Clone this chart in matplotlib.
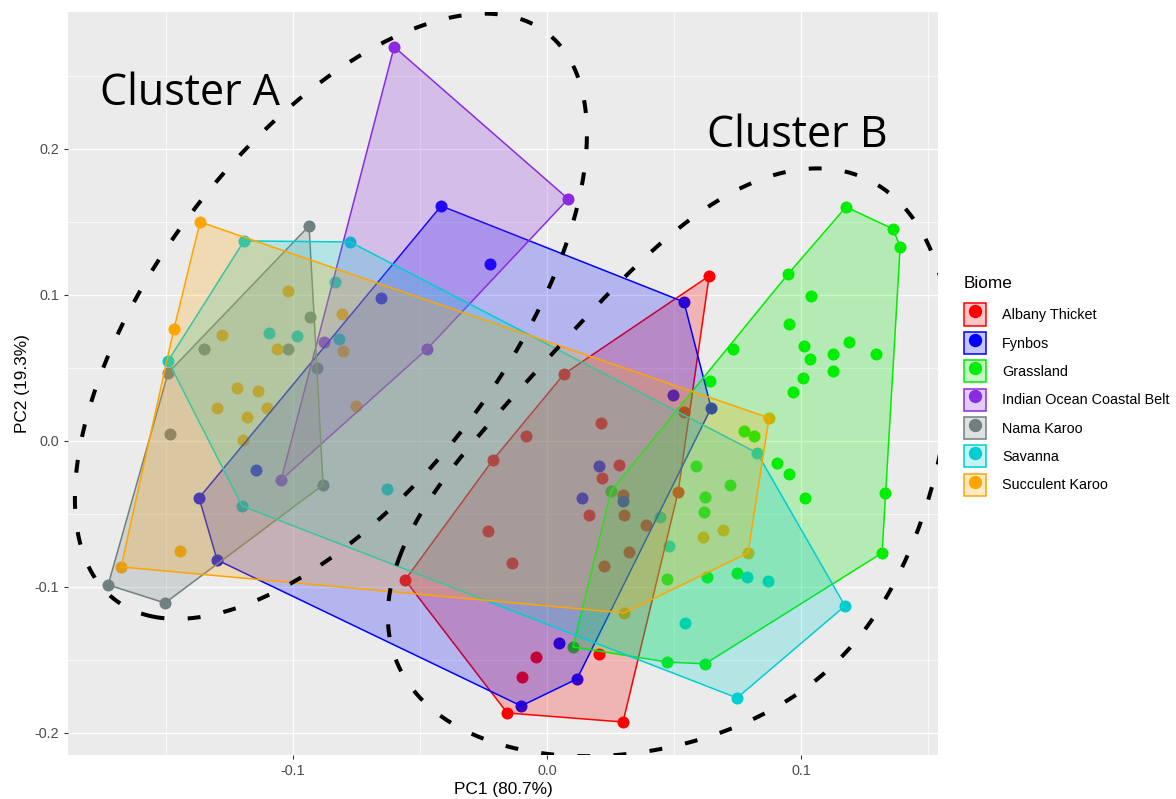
import numpy as np
import matplotlib
matplotlib.use("Agg")
import matplotlib.pyplot as plt
from matplotlib.patches import Polygon, Patch
from matplotlib.lines import Line2D
from matplotlib.colors import to_rgba

plt.rcParams['font.family'] = ['Liberation Sans', 'DejaVu Sans']

biomes = ["Albany Thicket", "Fynbos", "Grassland", "Indian Ocean Coastal Belt",
          "Nama Karoo", "Savanna", "Succulent Karoo"]
colors = ["#FF0000", "#0000FF", "#00EE00", "#8A2BE2", "#708080", "#00CED1", "#FFA500"]

albany_x = [0.0638, 0.0067, -0.0213, -0.0559, -0.0157, 0.0299, 0.0213, -0.0083, 0.0283, 0.0217,
            0.0165, -0.0232, -0.0138, 0.0299, 0.0303, 0.0390, 0.0323, 0.0224, 0.0539, 0.0516,
            0.0205, -0.0043, -0.0098]
albany_y = [0.1130, 0.0459, -0.0130, -0.0952, -0.1863, -0.1925, 0.0123, 0.0034, -0.0164, -0.0253,
            -0.0507, -0.0616, -0.0836, -0.0370, -0.0507, -0.0575, -0.0760, -0.0856, 0.0199, -0.0349,
            -0.1459, -0.1479, -0.1616]

fynbos_x = [-0.0417, -0.0224, 0.0539, 0.0646, 0.0118, -0.0102, -0.1299, -0.1370, -0.1146, -0.0654,
            0.0205, 0.0138, 0.0299, 0.0047, 0.0496]
fynbos_y = [0.1610, 0.1212, 0.0952, 0.0226, -0.1630, -0.1815, -0.0815, -0.0390, -0.0199, 0.0979,
            -0.0171, -0.0390, -0.0411, -0.1384, 0.0315]

grass_x = [0.1177, 0.1362, 0.1390, 0.1331, 0.1319, 0.0622, 0.0472, 0.0102, 0.0252, 0.0642,
           0.0732, 0.0949, 0.1039, 0.0953, 0.1012, 0.1035, 0.1126, 0.1189, 0.1295, 0.1126,
           0.1008, 0.0969, 0.0776, 0.0815, 0.0906, 0.0953, 0.1016, 0.0587, 0.0720, 0.0622,
           0.0618, 0.0472, 0.0630, 0.0748]
grass_y = [0.1603, 0.1452, 0.1329, -0.0356, -0.0767, -0.1527, -0.1514, -0.1411, -0.0342, 0.0411,
           0.0630, 0.1144, 0.0993, 0.0801, 0.0651, 0.0562, 0.0596, 0.0678, 0.0596, 0.0479,
           0.0432, 0.0336, 0.0068, 0.0034, -0.0151, -0.0226, -0.0390, -0.0171, -0.0301, -0.0384,
           -0.0486, -0.0945, -0.0932, -0.0904]

iocb_x = [-0.0602, 0.0083, -0.0472, -0.1047, -0.0878]
iocb_y = [0.2699, 0.1658, 0.0630, -0.0267, 0.0678]

nama_x = [-0.0937, -0.0882, -0.1504, -0.1728, -0.1492, -0.0933, -0.1020, -0.1350, -0.0906, -0.1484]
nama_y = [0.1473, -0.0301, -0.1110, -0.0986, 0.0466, 0.0849, 0.0630, 0.0630, 0.0500, 0.0048]

savanna_x = [-0.1193, -0.0776, 0.0827, 0.1173, 0.0748, -0.1201, -0.1492, -0.0835, -0.1094, -0.0984,
             -0.0819, -0.0630, 0.0787, 0.0870, 0.0480, 0.0445, 0.0543]
savanna_y = [0.1370, 0.1363, -0.0082, -0.1130, -0.1760, -0.0445, 0.0548, 0.1089, 0.0740, 0.0719,
             0.0699, -0.0329, -0.0932, -0.0959, -0.0719, -0.0521, -0.1247]

succ_x = [-0.1366, 0.0874, 0.0791, 0.0303, -0.1677, -0.1469, -0.1020, -0.0807, -0.1280, -0.1063,
          -0.0803, -0.1220, -0.1138, -0.1299, -0.1181, -0.1102, -0.1197, -0.1445, -0.0752, 0.0614,
          0.0693]
succ_y = [0.1500, 0.0158, -0.0767, -0.1178, -0.0863, 0.0767, 0.1027, 0.0870, 0.0726, 0.0630,
          0.0616, 0.0363, 0.0342, 0.0226, 0.0164, 0.0226, 0.0007, -0.0753, 0.0240, -0.0658,
          -0.0610]

groups = [(albany_x, albany_y), (fynbos_x, fynbos_y), (grass_x, grass_y), (iocb_x, iocb_y),
          (nama_x, nama_y), (savanna_x, savanna_y), (succ_x, succ_y)]

# hand drawn cluster outlines (annotation), data units
ell_a_centre = [-0.0851, 0.0854]
ell_a_axes = [[-0.0698, -0.0727], [-0.2058, 0.0246]]
# cluster B: closed curve as a short Fourier series (const, cos t, sin t, cos 2t, ...)
out_b_x = [0.0554, -0.1075, 0.0059, -0.0057, 0.0054, -0.0004, 0.0067]
out_b_y = [-0.0263, -0.0605, 0.1844, -0.0029, -0.0131, 0.0097, 0.0043]


def hull(xs, ys):
    pts = sorted(set(zip(xs, ys)))
    def cross(o, a, b):
        return (a[0] - o[0]) * (b[1] - o[1]) - (a[1] - o[1]) * (b[0] - o[0])
    lower, upper = [], []
    for p in pts:
        while len(lower) >= 2 and cross(lower[-2], lower[-1], p) <= 0:
            lower.pop()
        lower.append(p)
    for p in reversed(pts):
        while len(upper) >= 2 and cross(upper[-2], upper[-1], p) <= 0:
            upper.pop()
        upper.append(p)
    return lower[:-1] + upper[:-1]


fig = plt.figure(figsize=(11.76, 7.99), dpi=100)
ax = fig.add_axes([68 / 1176, 1 - 755 / 799, 870 / 1176, 743 / 799])
ax.set_facecolor("#EBEBEB")
for s in ax.spines.values():
    s.set_visible(False)

# points first, hulls with translucent fill on top (as in the original)
for (gx, gy), col in zip(groups, colors):
    ax.scatter(gx, gy, s=75, color=col, linewidths=0, zorder=2)
for (gx, gy), col in zip(groups, colors):
    ax.add_patch(Polygon(hull(gx, gy), closed=True, facecolor=to_rgba(col, 0.23), edgecolor=col,
                         linewidth=1.1, zorder=3))

t = np.linspace(0, 2 * np.pi, 500)
ca = np.array(ell_a_centre)[:, None] + np.array(ell_a_axes) @ np.vstack([np.cos(t), np.sin(t)])
ax.plot(ca[0], ca[1], color="black", lw=2.9, dashes=(3.2, 5.8), zorder=4)

basis = [np.ones_like(t)]
for k in range(1, 4):
    basis += [np.cos(k * t), np.sin(k * t)]
basis = np.column_stack(basis)
ax.plot(basis @ out_b_x, basis @ out_b_y, color="black", lw=2.9, dashes=(3.2, 5.8), zorder=4)

ax.text(-0.1406, 0.2301, "Cluster A", family=["Open Sans", "DejaVu Sans"], fontsize=31,
        ha="center", va="baseline", zorder=5)
ax.text(0.0984, 0.2014, "Cluster B", family=["Open Sans", "DejaVu Sans"], fontsize=31,
        ha="center", va="baseline", zorder=5)

ax.set_xlim(-0.1886, 0.1539)
ax.set_ylim(-0.2151, 0.2938)
ax.set_xticks([-0.1, 0.0, 0.1])
ax.set_xticklabels(["-0.1", "0.0", "0.1"])
ax.set_yticks([-0.2, -0.1, 0.0, 0.1, 0.2])
ax.set_yticklabels(["-0.2", "-0.1", "0.0", "0.1", "0.2"])
ax.set_xticks([-0.15, -0.05, 0.05, 0.15], minor=True)
ax.set_yticks([-0.15, -0.05, 0.05, 0.15, 0.25], minor=True)
ax.grid(True, which="major", color="white", lw=1.0, zorder=0)
ax.grid(True, which="minor", color="white", lw=0.5, zorder=0)
ax.set_axisbelow(True)
ax.tick_params(which="major", length=3, color="#333333", labelsize=10.4, labelcolor="#4D4D4D")
ax.tick_params(which="minor", length=0)
ax.set_xlabel("PC1 (80.7%)", fontsize=12.4, labelpad=3)
ax.set_ylabel("PC2 (19.3%)", fontsize=12.4, labelpad=3)

handles = [(Patch(facecolor=to_rgba(c, 0.23), edgecolor=c, linewidth=1.1),
            Line2D([], [], marker="o", ls="", color=c, markersize=8.6)) for c in colors]
leg = fig.legend(handles, biomes, loc="upper left", bbox_to_anchor=(964 / 1176, 1 - 276 / 799),
                 frameon=False, title="Biome", fontsize=10.4, title_fontsize=12.4,
                 handlelength=1.53, handleheight=1.97, handletextpad=1.1, labelspacing=0.44,
                 borderpad=0, borderaxespad=0, alignment="left")
leg._legend_box.sep = 9

fig.savefig("out.png", dpi=100)
